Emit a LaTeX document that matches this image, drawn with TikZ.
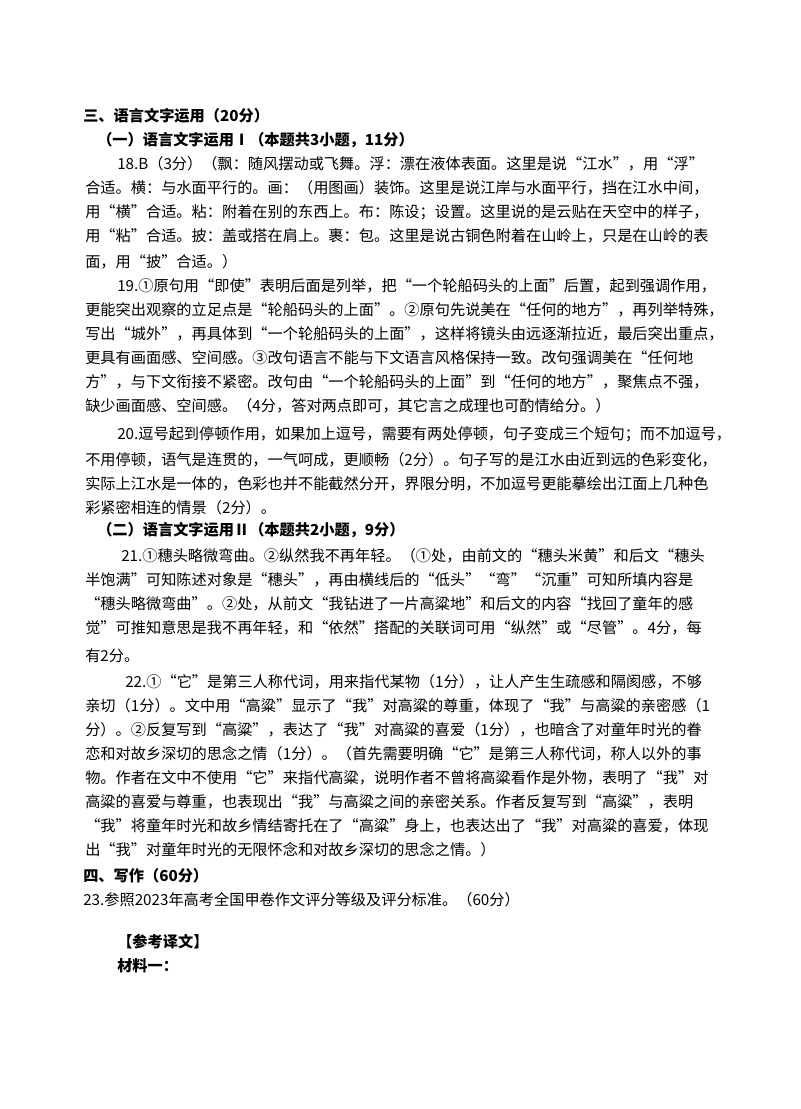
\documentclass[tikz,border=0pt]{standalone}
\usepackage{fontspec}
\setmainfont{Noto Sans CJK SC}
\XeTeXlinebreaklocale "zh"
\XeTeXlinebreakskip=0pt plus 3pt
\newcommand\Jl[1]{\makebox[470pt][s]{#1}}
\newcommand\Ji[1]{\makebox[446pt][s]{#1}}
\begin{document}
\begin{tikzpicture}[x=0.75pt,y=-0.75pt,
  t/.style={anchor=west,inner sep=0pt,font=\fontsize{11.4pt}{13pt}\selectfont},
  h/.style={t,font=\fontsize{11.4pt}{13pt}\selectfont\bfseries}]
\fill[white] (0,0) rectangle (800,1109);
\useasboundingbox (0,0) rectangle (800,1109);
\node[h] (s3) at (83,116) {三、语言文字运用（20分）};
\node[h] (s31) at (97,140) {（一）语言文字运用Ⅰ（本题共3小题，11分）};
\node[t] (a1) at (117,164) {\Ji{18.B（3分）（飘：随风摆动或飞舞。浮：漂在液体表面。这里是说“江水”，用“浮”}};
\node[t] (a2) at (85,188) {\Jl{合适。横：与水面平行的。画：（用图画）装饰。这里是说江岸与水面平行，挡在江水中间，}};
\node[t] (a3) at (85,212) {\Jl{用“横”合适。粘：附着在别的东西上。布：陈设；设置。这里说的是云贴在天空中的样子，}};
\node[t] (a4) at (85,236) {\Jl{用“粘”合适。披：盖或搭在肩上。裹：包。这里是说古铜色附着在山岭上，只是在山岭的表}};
\node[t] (a5) at (85,262) {面，用“披”合适。）};
\node[t] (b1) at (117,286) {\Ji{19.①原句用“即使”表明后面是列举，把“一个轮船码头的上面”后置，起到强调作用，}};
\node[t] (b2) at (85,310) {\Jl{更能突出观察的立足点是“轮船码头的上面”。②原句先说美在“任何的地方”，再列举特殊，}};
\node[t] (b3) at (85,334) {\Jl{写出“城外”，再具体到“一个轮船码头的上面”，这样将镜头由远逐渐拉近，最后突出重点，}};
\node[t] (b4) at (85,358) {\Jl{更具有画面感、空间感。③改句语言不能与下文语言风格保持一致。改句强调美在“任何地}};
\node[t] (b5) at (85,382) {\Jl{方”，与下文衔接不紧密。改句由“一个轮船码头的上面”到“任何的地方”，聚焦点不强，}};
\node[t] (b6) at (85,406) {缺少画面感、空间感。（4分，答对两点即可，其它言之成理也可酌情给分。）};
\node[t] (c1) at (117,434) {\Ji{20.逗号起到停顿作用，如果加上逗号，需要有两处停顿，句子变成三个短句；而不加逗号，}};
\node[t] (c2) at (85,460) {\Jl{不用停顿，语气是连贯的，一气呵成，更顺畅（2分）。句子写的是江水由近到远的色彩变化，}};
\node[t] (c3) at (85,484) {\Jl{实际上江水是一体的，色彩也并不能截然分开，界限分明，不加逗号更能摹绘出江面上几种色}};
\node[t] (c4) at (85,508) {彩紧密相连的情景（2分）。};
\node[h] (s32) at (97,530) {（二）语言文字运用Ⅱ（本题共2小题，9分）};
\node[t] (d1) at (121,556) {\makebox[442pt][s]{21.①穗头略微弯曲。②纵然我不再年轻。（①处，由前文的“穗头米黄”和后文“穗头}};
\node[t] (d2) at (85,580) {\Jl{半饱满”可知陈述对象是“穗头”，再由横线后的“低头”“弯”“沉重”可知所填内容是}};
\node[t] (d3) at (85,604) {\Jl{“穗头略微弯曲”。②处，从前文“我钻进了一片高粱地”和后文的内容“找回了童年的感}};
\node[t] (d4) at (85,628) {\Jl{觉”可推知意思是我不再年轻，和“依然”搭配的关联词可用“纵然”或“尽管”。4分，每}};
\node[t] (d5) at (85,656) {有2分。};
\node[t] (e1) at (125,682) {\makebox[439pt][s]{22.①“它”是第三人称代词，用来指代某物（1分），让人产生生疏感和隔阂感，不够}};
\node[t] (e2) at (85,706) {\Jl{亲切（1分）。文中用“高粱”显示了“我”对高粱的尊重，体现了“我”与高粱的亲密感（1}};
\node[t] (e3) at (85,730) {\Jl{分）。②反复写到“高粱”，表达了“我”对高粱的喜爱（1分），也暗含了对童年时光的眷}};
\node[t] (e4) at (85,754) {\Jl{恋和对故乡深切的思念之情（1分）。（首先需要明确“它”是第三人称代词，称人以外的事}};
\node[t] (e5) at (85,778) {\Jl{物。作者在文中不使用“它”来指代高粱，说明作者不曾将高粱看作是外物，表明了“我”对}};
\node[t] (e6) at (85,802) {\Jl{高粱的喜爱与尊重，也表现出“我”与高粱之间的亲密关系。作者反复写到“高粱”，表明}};
\node[t] (e7) at (85,826) {\Jl{“我”将童年时光和故乡情结寄托在了“高粱”身上，也表达出了“我”对高粱的喜爱，体现}};
\node[t] (e8) at (85,850) {出“我”对童年时光的无限怀念和对故乡深切的思念之情。）};
\node[h] (s4) at (83,876) {四、写作（60分）};
\node[t] (f1) at (83,900) {23.参照2023年高考全国甲卷作文评分等级及评分标准。（60分）};
\node[h] (g1) at (117,942) {【参考译文】};
\node[h] (g2) at (117,966) {材料一：};
\end{tikzpicture}
\end{document}
